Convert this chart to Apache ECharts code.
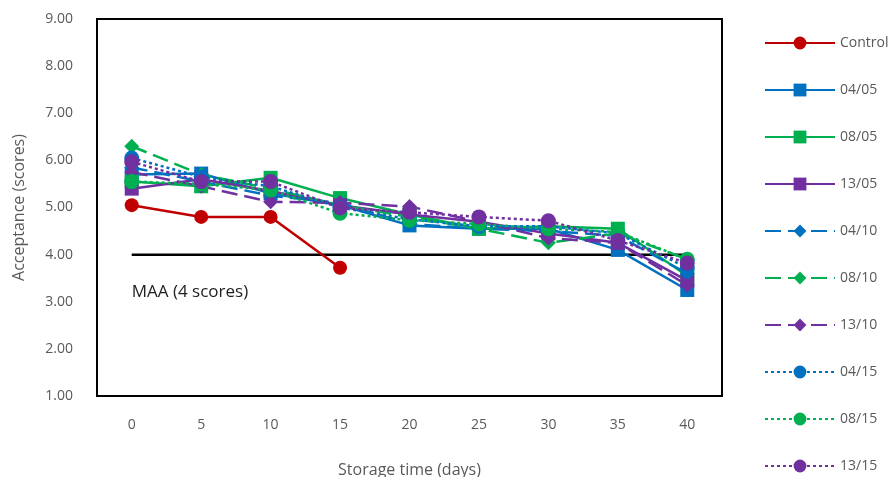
<!DOCTYPE html>
<html>
<head>
<meta charset="utf-8">
<script src="https://cdn.jsdelivr.net/npm/echarts@6/dist/echarts.min.js"></script>
<style>
  html, body { margin: 0; padding: 0; background: #fff; }
  #chart { width: 896px; height: 477px; }
</style>
</head>
<body>
<div id="chart"></div>
<script>
// Storage days on the x axis
const days = ['0', '5', '10', '15', '20', '25', '30', '35', '40'];

// Sensory acceptance scores per treatment
const control = [5.05, 4.80, 4.80, 3.72, null, null, null, null, null];
const t0405 = [5.70, 5.72, 5.30, 5.05, 4.62, 4.55, 4.55, 4.10, 3.25];
const t0805 = [5.55, 5.45, 5.63, 5.20, 4.85, 4.55, 4.60, 4.55, 3.55];
const t1305 = [5.40, 5.60, 5.35, 5.05, 4.85, 4.70, 4.45, 4.25, 3.45];
const t0410 = [5.85, 5.55, 5.25, 5.10, 4.65, 4.55, 4.50, 4.40, 3.60];
const t0810 = [6.30, 5.70, 5.40, 5.05, 4.80, 4.55, 4.25, 4.45, 3.90];
const t1310 = [5.75, 5.45, 5.12, 5.10, 5.02, 4.70, 4.35, 4.25, 3.35];
const t0415 = [6.05, 5.65, 5.45, 5.00, 4.75, 4.60, 4.60, 4.45, 3.72];
const t0815 = [5.55, 5.50, 5.37, 4.88, 4.73, 4.65, 4.55, 4.48, 3.90];
const t1315 = [5.97, 5.55, 5.55, 4.99, 4.90, 4.80, 4.72, 4.30, 3.82];

// Minimum acceptable acceptance
const maaScore = 4;

const RED = '#C00000', BLUE = '#0070C0', GREEN = '#00B050', PURPLE = '#7030A0';
const DASH = [16, 7], DOT = [3, 3];
const FONT = 'Open Sans';

function mk(name, data, color, symbol, dash, size) {
  return {
    name, type: 'line', data,
    symbol, symbolSize: size,
    showAllSymbol: true,
    connectNulls: false,
    itemStyle: { color },
    lineStyle: { color, width: 2.5, type: dash },
    emphasis: { disabled: true },
    z: 3
  };
}

const series = [
  mk('Control', control, RED, 'circle', 'solid', 14),
  mk('04/05', t0405, BLUE, 'rect', 'solid', 14),
  mk('08/05', t0805, GREEN, 'rect', 'solid', 14),
  mk('13/05', t1305, PURPLE, 'rect', 'solid', 14),
  mk('04/10', t0410, BLUE, 'diamond', DASH, 15),
  mk('08/10', t0810, GREEN, 'diamond', DASH, 15),
  mk('13/10', t1310, PURPLE, 'diamond', DASH, 15),
  mk('04/15', t0415, BLUE, 'circle', DOT, 15),
  mk('08/15', t0815, GREEN, 'circle', DOT, 15),
  mk('13/15', t1315, PURPLE, 'circle', DOT, 15),
  {
    name: 'MAA', type: 'line',
    data: days.map(() => maaScore),
    symbol: 'none',
    lineStyle: { color: '#000', width: 2.5 },
    emphasis: { disabled: true },
    z: 2,
    markPoint: {
      symbol: 'circle', symbolSize: 0,
      data: [{ coord: [0, maaScore], value: 'MAA (4 scores)' }],
      label: {
        show: true, position: 'right',
        formatter: 'MAA (4 scores)',
        offset: [-5, 38],
        color: '#222', fontSize: 17, fontFamily: FONT
      }
    }
  }
];

const chart = echarts.init(document.getElementById('chart'), null, { renderer: 'canvas' });
chart.setOption({
  animation: false,
  backgroundColor: '#fff',
  grid: {
    left: 97, top: 19, right: 174, bottom: 81,
    outerBoundsMode: 'none',
    containLabel: false,
    show: true, borderColor: '#000', borderWidth: 2
  },
  legend: {
    orient: 'vertical',
    left: 764, top: 36,
    padding: 0,
    itemWidth: 70, itemHeight: 16, itemGap: 33,
    data: series.slice(0, 10).map(s => s.name),
    textStyle: { color: '#595959', fontSize: 14, fontFamily: FONT, padding: [0, 0, 0, 0] },
    selectedMode: false
  },
  xAxis: {
    type: 'category', data: days, boundaryGap: true,
    name: 'Storage time (days)', nameLocation: 'middle', nameGap: 66,
    nameTextStyle: { color: '#595959', fontSize: 16, fontFamily: FONT },
    axisLine: { show: false }, axisTick: { show: false },
    axisLabel: { color: '#595959', fontSize: 14, fontFamily: FONT, margin: 22 }
  },
  yAxis: {
    type: 'value', min: 1, max: 9, interval: 1,
    name: 'Acceptance (scores)', nameLocation: 'middle', nameGap: 70,
    nameTextStyle: { color: '#595959', fontSize: 16, fontFamily: FONT },
    axisLine: { show: false }, axisTick: { show: false },
    splitLine: { show: false },
    axisLabel: {
      color: '#595959', fontSize: 14, fontFamily: FONT, margin: 24,
      formatter: v => v.toFixed(2)
    }
  },
  series
});
</script>
</body>
</html>
